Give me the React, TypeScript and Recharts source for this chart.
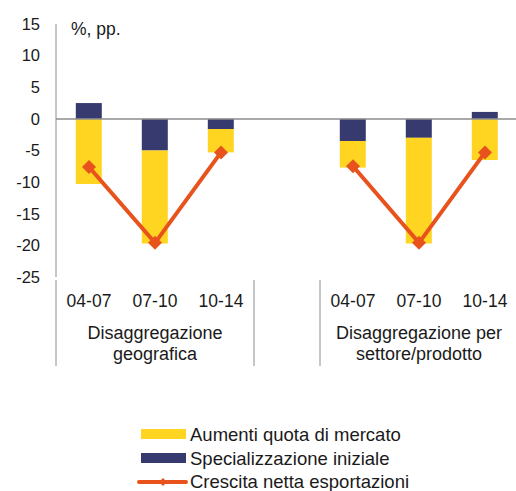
import React from 'react'
import {
  ComposedChart,
  Bar,
  Line,
  XAxis,
  YAxis,
  ReferenceLine,
} from 'recharts'

// categories: two groups of three periods, with an empty slot between them
const periods = ['04-07', '07-10', '10-14', '', '04-07', '07-10', '10-14']
const quota = [-10.3, -14.7, -3.7, null, -4.2, -16.7, -6.5]
const special = [2.5, -5.0, -1.6, null, -3.5, -3.0, 1.1]
const crescita = [-7.6, -19.6, -5.3, null, -7.5, -19.6, -5.3]
const yTicks = [-25, -20, -15, -10, -5, 0, 5, 10, 15]
const groupLabels = [
  ['Disaggregazione', 'geografica'],
  ['Disaggregazione per', 'settore/prodotto'],
]
const seriesNames = [
  'Aumenti quota di mercato',
  'Specializzazione iniziale',
  'Crescita netta esportazioni',
]

const YELLOW = '#FFD522'
const BLUE = '#363A6F'
const ORANGE = '#E8521C'
const GRID = '#8c8c8c'
const INK = '#1a1a1a'
const FONT = '"Liberation Sans", Arial, sans-serif'

const data = periods.map((p, i) => ({
  period: p,
  quota: quota[i],
  special: special[i],
  crescita: crescita[i],
}))

const CHART_W = 518
const Y_W = 56
const step = (CHART_W - Y_W) / periods.length

const XTick = (props: any) => {
  const { x, y, payload, index } = props
  const lines: React.ReactNode[] = []
  const top = y - 15
  const bottom = y + 71
  if (index === 0 || index === 4) {
    lines.push(<line key="l" x1={x - step / 2} x2={x - step / 2} y1={top} y2={bottom} stroke={GRID} />)
  }
  if (index === 2) {
    lines.push(<line key="r" x1={x + step / 2} x2={x + step / 2} y1={top} y2={bottom} stroke={GRID} />)
  }
  let label = null
  if (index === 1 || index === 5) {
    const g = groupLabels[index === 1 ? 0 : 1]
    label = (
      <g>
        <text x={x} y={y + 44} textAnchor="middle" fontSize={18} fill={INK} fontFamily={FONT}>{g[0]}</text>
        <text x={x} y={y + 65} textAnchor="middle" fontSize={18} fill={INK} fontFamily={FONT}>{g[1]}</text>
      </g>
    )
  }
  return (
    <g>
      {lines}
      <text x={x} y={y} dy="0.71em" textAnchor="middle" fontSize={17.5} fill={INK} fontFamily={FONT}>
        {payload.value}
      </text>
      {label}
    </g>
  )
}

const Diamond = (props: any) => {
  const { cx, cy } = props
  if (cx == null || cy == null || props.value == null) return null
  const r = 7
  return (
    <polygon
      points={`${cx},${cy - r} ${cx + r},${cy} ${cx},${cy + r} ${cx - r},${cy}`}
      fill={ORANGE}
    />
  )
}

export default function App() {
  return (
    <div style={{ position: 'absolute', left: 0, top: 0, width: 516, height: 491, overflow: 'hidden', background: '#fff' }}>
      <ComposedChart
        width={CHART_W}
        height={380}
        data={data}
        stackOffset="sign"
        barCategoryGap="30%"
        margin={{ top: 24, right: 0, bottom: 0, left: 0 }}
      >
        <YAxis
          width={Y_W}
          domain={[-25, 15]}
          ticks={yTicks}
          interval={0}
          tickSize={0}
          tickMargin={16}
          axisLine={{ stroke: GRID }}
          tick={{ fontSize: 16.5, fill: INK, fontFamily: FONT }}
        />
        <XAxis
          dataKey="period"
          height={103}
          interval={0}
          tickSize={0}
          tickMargin={18}
          axisLine={false}
          tickLine={false}
          tick={<XTick />}
        />
        <ReferenceLine y={0} stroke={GRID} strokeWidth={1.5} />
        <Bar dataKey="special" stackId="a" fill={BLUE} isAnimationActive={false} />
        <Bar dataKey="quota" stackId="a" fill={YELLOW} isAnimationActive={false} />
        <Line
          dataKey="crescita"
          stroke={ORANGE}
          strokeWidth={4}
          dot={<Diamond />}
          activeDot={false}
          connectNulls={false}
          isAnimationActive={false}
        />
      </ComposedChart>
      <svg width={516} height={491} style={{ position: 'absolute', left: 0, top: 0, pointerEvents: 'none' }}>
        <text x={71} y={35} fontSize={17.5} fill={INK} fontFamily={FONT}>%, pp.</text>
        <rect x={141} y={429} width={45} height={10} fill={YELLOW} />
        <text x={190} y={441} fontSize={18.5} fill={INK} fontFamily={FONT}>{seriesNames[0]}</text>
        <rect x={141} y={453} width={45} height={10} fill={BLUE} />
        <text x={190} y={465} fontSize={18.5} fill={INK} fontFamily={FONT}>{seriesNames[1]}</text>
        <line x1={139} x2={186} y1={482} y2={482} stroke={ORANGE} strokeWidth={4} strokeLinecap="round" />
        <polygon points="163,478 167,482 163,486 159,482" fill={ORANGE} />
        <text x={190} y={488} fontSize={18.5} fill={INK} fontFamily={FONT}>{seriesNames[2]}</text>
      </svg>
    </div>
  )
}
